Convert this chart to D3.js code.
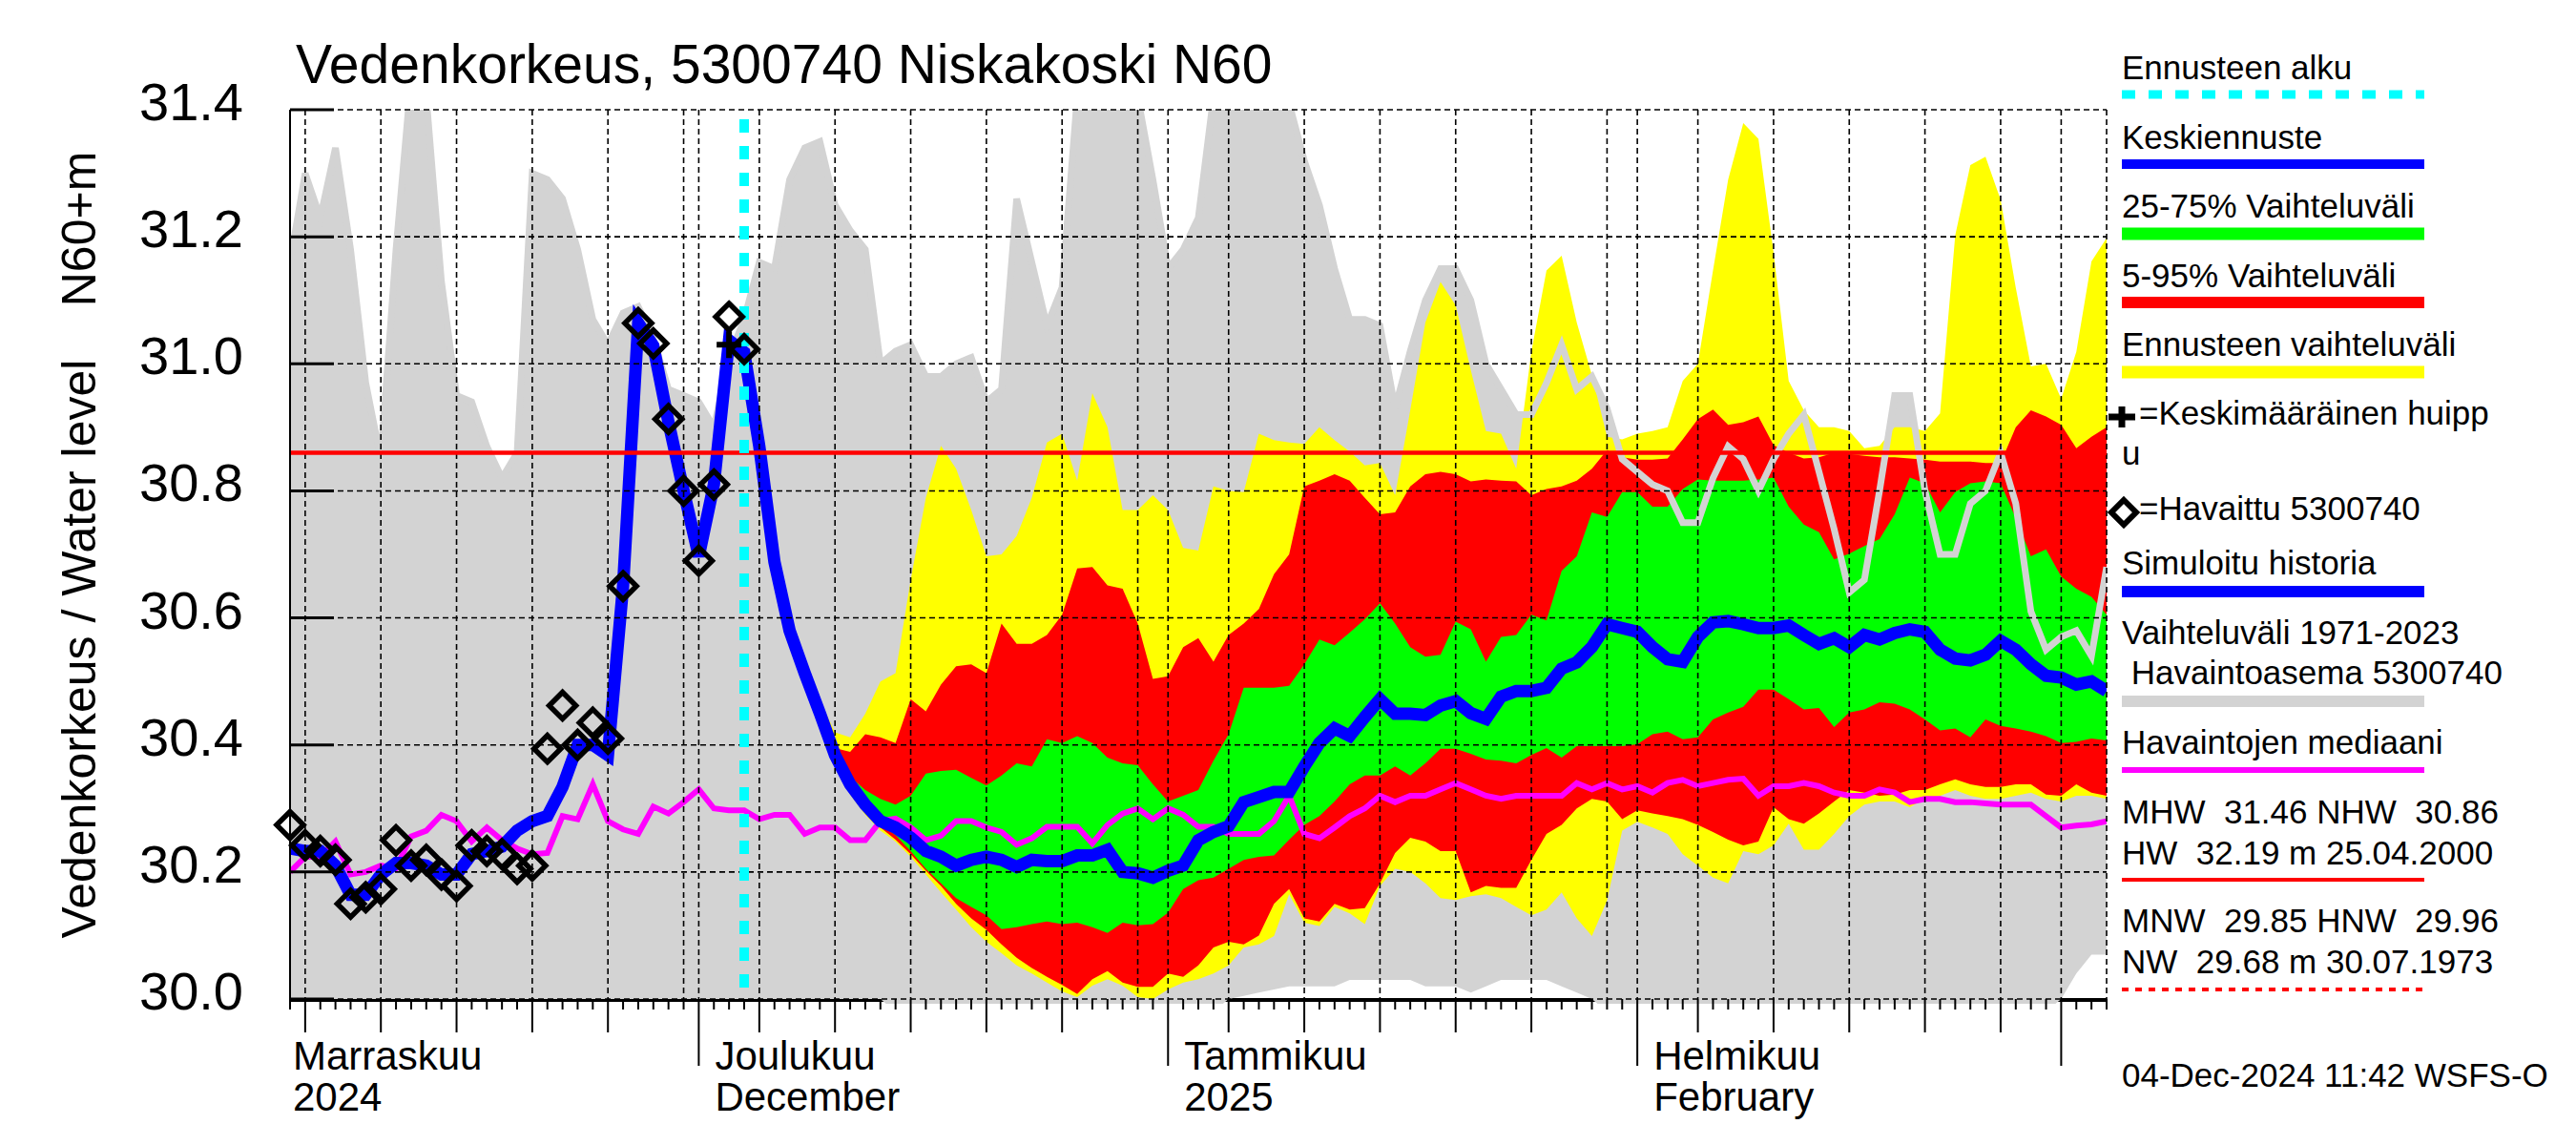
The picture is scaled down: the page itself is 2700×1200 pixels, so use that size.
<!DOCTYPE html>
<html>
<head>
<meta charset="utf-8">
<script src="https://cdn.jsdelivr.net/npm/d3@7"></script>
<style>
  body { margin: 0; background: #fff; }
  svg { display: block; font-family: "Liberation Sans", Arial, sans-serif; }
</style>
</head>
<body>
<script>
// ---- data (daily values) ----
let startDate = "2024-11-04";
let endDate = "2025-03-04";
let forecastDate = "2024-12-04";
let peakDate = "2024-12-03";
let peakValue = 31.03;
let nhwLevel = 30.86;

let yTicks = [30.0, 30.2, 30.4, 30.6, 30.8, 31.0, 31.2, 31.4];
let monthLabels = [
  { date: "2024-11-01", top: "Marraskuu", bottom: "2024" },
  { date: "2024-12-01", top: "Joulukuu", bottom: "December" },
  { date: "2025-01-01", top: "Tammikuu", bottom: "2025" },
  { date: "2025-02-01", top: "Helmikuu", bottom: "February" },
];

// Vaihteluväli 1971-2023 (from startDate, one value per day)
let greyHigh = [
  31.16, 31.30, 31.23, 31.34, 31.18, 30.97, 30.85, 31.18, 31.45, 31.42,
  31.13, 30.95, 30.94, 30.87, 30.82, 30.86, 31.30, 31.29, 31.26, 31.18,
  31.07, 31.03, 31.08, 31.09, 31.04, 30.96, 30.95, 30.94, 30.90, 31.01,
  31.07, 31.16, 31.15, 31.29, 31.34, 31.35, 31.25, 31.21, 31.18, 31.00,
  31.02, 31.03, 30.98, 30.98, 31.00, 31.01, 30.94, 30.96, 31.26, 31.16,
  31.06, 31.12, 31.42, 31.45, 31.48, 31.45, 31.42, 31.29, 31.15, 31.18,
  31.23, 31.42, 31.50, 31.50, 31.50, 31.45, 31.41, 31.32, 31.25, 31.15,
  31.07, 31.07, 31.06, 30.93, 31.02, 31.10, 31.15, 31.15, 31.10, 31.00,
  30.96, 30.92, 30.92, 30.97, 31.03, 30.96, 30.98, 30.93, 30.85, 30.83,
  30.81, 30.80, 30.75, 30.75, 30.82, 30.87, 30.85, 30.80, 30.85, 30.89,
  30.92, 30.83, 30.74, 30.64, 30.66, 30.80, 30.95, 30.95, 30.80, 30.70,
  30.70, 30.78, 30.80, 30.86, 30.78, 30.61, 30.55, 30.57, 30.58, 30.54,
  30.68,
];
let greyLow = [
  30.0, 30.0, 30.0, 30.0, 30.0, 30.0, 30.0, 30.0, 30.0, 30.0,
  30.0, 30.0, 30.0, 30.0, 30.0, 30.0, 30.0, 30.0, 30.0, 30.0,
  30.0, 30.0, 30.0, 30.0, 30.0, 30.0, 30.0, 30.0, 30.0, 30.0,
  30.0, 30.0, 30.0, 30.0, 30.0, 30.0, 30.0, 30.0, 30.0, 30.0,
  29.98, 29.98, 29.98, 29.98, 29.98, 29.98, 29.98, 29.98, 29.98, 29.98,
  29.98, 29.98, 29.98, 29.98, 29.98, 29.98, 29.98, 29.98, 29.98, 29.98,
  29.98, 29.98, 30.0, 30.005, 30.01, 30.015, 30.02, 30.02, 30.02, 30.02,
  30.03, 30.03, 30.03, 30.03, 30.03, 30.02, 30.02, 30.02, 30.01, 30.02,
  30.03, 30.03, 30.03, 30.03, 30.02, 30.01, 30.0, 29.98, 29.98, 29.98,
  29.98, 29.98, 29.98, 29.98, 29.98, 29.98, 29.98, 29.98, 29.98, 29.98,
  29.98, 29.98, 29.98, 29.98, 29.98, 29.98, 29.98, 29.98, 29.98, 29.98,
  29.98, 29.98, 29.98, 29.98, 29.98, 29.98, 29.98, 30.0, 30.04, 30.07,
  30.07,
];

// Havaintojen mediaani (from startDate)
let median = [
  30.20, 30.224, 30.224, 30.248, 30.196, 30.20, 30.21, 30.206, 30.256, 30.265,
  30.29, 30.28, 30.248, 30.27, 30.25, 30.237, 30.228, 30.23, 30.288, 30.283,
  30.338, 30.28, 30.267, 30.26, 30.303, 30.292, 30.31, 30.33, 30.30, 30.297,
  30.297, 30.283, 30.29, 30.29, 30.26, 30.27, 30.27, 30.25, 30.25, 30.28,
  30.284, 30.27, 30.25, 30.257, 30.28, 30.28, 30.27, 30.263, 30.243, 30.253,
  30.271, 30.271, 30.271, 30.245, 30.274, 30.292, 30.30, 30.283, 30.30, 30.29,
  30.271, 30.271, 30.26, 30.26, 30.26, 30.28, 30.32, 30.26, 30.253, 30.27,
  30.288, 30.30, 30.32, 30.31, 30.32, 30.32, 30.33, 30.34, 30.33, 30.32,
  30.315, 30.32, 30.32, 30.32, 30.32, 30.34, 30.33, 30.34, 30.33, 30.335,
  30.325, 30.34, 30.345, 30.335, 30.34, 30.345, 30.347, 30.32, 30.335, 30.335,
  30.34, 30.335, 30.325, 30.32, 30.32, 30.33, 30.325, 30.31, 30.315, 30.315,
  30.31, 30.31, 30.308, 30.306, 30.306, 30.306, 30.288, 30.27, 30.273, 30.275,
  30.28,
];

// Simuloitu historia and Havaittu (from startDate up to forecastDate)
let simHistory = [
  30.237, 30.233, 30.233, 30.21, 30.164, 30.164, 30.196, 30.214, 30.214, 30.21,
  30.196, 30.196, 30.228, 30.233, 30.24, 30.265, 30.28, 30.288, 30.334, 30.40,
  30.40, 30.384, 30.65, 31.064, 31.028, 30.908, 30.80, 30.697, 30.81, 31.037,
  31.018,
];
let observed = [
  30.274, 30.242, 30.233, 30.219, 30.15, 30.16, 30.173, 30.25, 30.21, 30.219,
  30.196, 30.178, 30.242, 30.233, 30.228, 30.205, 30.21, 30.394, 30.462, 30.40,
  30.435, 30.41, 30.65, 31.064, 31.032, 30.913, 30.80, 30.69, 30.81, 31.074,
  31.023,
];

// Forecast (from forecastDate)
let forecastMean = [
  31.018, 30.87, 30.688, 30.58, 30.513, 30.45, 30.384, 30.338, 30.306, 30.28,
  30.27, 30.254, 30.233, 30.224, 30.21, 30.219, 30.224, 30.219, 30.208, 30.219,
  30.217, 30.217, 30.226, 30.226, 30.235, 30.20, 30.198, 30.191, 30.202, 30.21,
  30.25, 30.263, 30.272, 30.31, 30.318, 30.326, 30.326, 30.366, 30.403, 30.426,
  30.414, 30.444, 30.472, 30.449, 30.449, 30.447, 30.462, 30.469, 30.45, 30.441,
  30.476, 30.485, 30.485, 30.49, 30.52, 30.53, 30.554, 30.59, 30.584, 30.578,
  30.554, 30.535, 30.531, 30.57, 30.593, 30.595, 30.59, 30.584, 30.584, 30.588,
  30.573, 30.559, 30.568, 30.554, 30.573, 30.566, 30.576, 30.582, 30.578, 30.55,
  30.536, 30.533, 30.542, 30.564, 30.55, 30.527, 30.509, 30.506, 30.495, 30.50,
  30.485,
];
let yellowHigh = [
  31.018, 30.87, 30.69, 30.60, 30.53, 30.47, 30.42, 30.412, 30.449, 30.50,
  30.513, 30.66, 30.789, 30.871, 30.835, 30.77, 30.697, 30.70, 30.729, 30.789,
  30.876, 30.89, 30.816, 30.954, 30.90, 30.77, 30.77, 30.793, 30.77, 30.71,
  30.706, 30.807, 30.80, 30.798, 30.89, 30.88, 30.876, 30.874, 30.90, 30.88,
  30.862, 30.84, 30.844, 30.793, 30.927, 31.065, 31.129, 31.092, 30.99, 30.894,
  30.89, 30.835, 31.019, 31.147, 31.17, 31.065, 30.982, 30.885, 30.881, 30.89,
  30.894, 30.90, 30.973, 31.0, 31.147, 31.29, 31.379, 31.354, 31.175, 30.973,
  30.927, 30.90, 30.90, 30.894, 30.867, 30.871, 30.90, 30.90, 30.894, 30.922,
  31.202, 31.313, 31.326, 31.258, 31.12, 30.996, 31.0, 30.945, 31.019, 31.161,
  31.198,
];
let redHigh = [
  31.018, 30.87, 30.688, 30.58, 30.515, 30.455, 30.395, 30.389, 30.417, 30.412,
  30.403, 30.472, 30.453, 30.495, 30.524, 30.527, 30.513, 30.591, 30.559, 30.559,
  30.573, 30.605, 30.678, 30.68, 30.651, 30.646, 30.591, 30.504, 30.508, 30.554,
  30.568, 30.531, 30.573, 30.591, 30.614, 30.669, 30.70, 30.807, 30.816, 30.826,
  30.816, 30.789, 30.763, 30.766, 30.807, 30.826, 30.83, 30.826, 30.815, 30.818,
  30.816, 30.815, 30.793, 30.803, 30.807, 30.816, 30.835, 30.864, 30.853, 30.849,
  30.849, 30.851, 30.881, 30.913, 30.928, 30.904, 30.908, 30.917, 30.872, 30.86,
  30.851, 30.853, 30.86, 30.858, 30.855, 30.853, 30.853, 30.851, 30.849, 30.846,
  30.846, 30.846, 30.844, 30.844, 30.90, 30.927, 30.917, 30.904, 30.867, 30.885,
  30.90,
];
let greenHigh = [
  31.018, 30.87, 30.688, 30.58, 30.513, 30.45, 30.39, 30.35, 30.329, 30.315,
  30.306, 30.32, 30.355, 30.359, 30.361, 30.348, 30.336, 30.352, 30.371, 30.366,
  30.409, 30.403, 30.414, 30.403, 30.38, 30.371, 30.368, 30.338, 30.311, 30.32,
  30.329, 30.375, 30.417, 30.49, 30.49, 30.49, 30.493, 30.527, 30.566, 30.557,
  30.577, 30.598, 30.623, 30.591, 30.554, 30.539, 30.542, 30.594, 30.582, 30.531,
  30.57, 30.573, 30.605, 30.596, 30.674, 30.697, 30.766, 30.759, 30.798, 30.798,
  30.775, 30.775, 30.803, 30.818, 30.816, 30.816, 30.816, 30.818, 30.821, 30.775,
  30.747, 30.735, 30.692, 30.701, 30.713, 30.724, 30.763, 30.821, 30.812, 30.766,
  30.798, 30.812, 30.815, 30.812, 30.757, 30.697, 30.708, 30.665, 30.646, 30.633,
  30.605,
];
let greenLow = [
  31.018, 30.87, 30.688, 30.578, 30.51, 30.446, 30.38, 30.33, 30.30, 30.275,
  30.258, 30.233, 30.205, 30.182, 30.159, 30.145, 30.132, 30.11, 30.113, 30.118,
  30.122, 30.118, 30.12, 30.113, 30.104, 30.12, 30.116, 30.118, 30.136, 30.173,
  30.187, 30.191, 30.205, 30.219, 30.224, 30.226, 30.251, 30.274, 30.288, 30.311,
  30.338, 30.352, 30.352, 30.366, 30.352, 30.371, 30.394, 30.394, 30.386, 30.377,
  30.375, 30.371, 30.384, 30.395, 30.38, 30.398, 30.398, 30.398, 30.398, 30.401,
  30.417, 30.421, 30.409, 30.412, 30.44, 30.451, 30.46, 30.487, 30.487, 30.472,
  30.456, 30.458, 30.428, 30.451, 30.456, 30.467, 30.465, 30.456, 30.44, 30.423,
  30.426, 30.412, 30.44, 30.43, 30.426, 30.421, 30.414, 30.403, 30.405, 30.41,
  30.407,
];
let redLow = [
  31.018, 30.87, 30.688, 30.577, 30.508, 30.444, 30.378, 30.325, 30.295, 30.27,
  30.251, 30.228, 30.202, 30.178, 30.15, 30.127, 30.109, 30.086, 30.065, 30.049,
  30.035, 30.022, 30.008, 30.031, 30.044, 30.026, 30.019, 30.019, 30.04, 30.035,
  30.053, 30.081, 30.09, 30.086, 30.10, 30.15, 30.173, 30.127, 30.122, 30.15,
  30.141, 30.143, 30.182, 30.23, 30.254, 30.248, 30.233, 30.233, 30.168, 30.178,
  30.175, 30.175, 30.219, 30.26, 30.274, 30.30, 30.315, 30.311, 30.283, 30.297,
  30.292, 30.288, 30.283, 30.274, 30.263, 30.251, 30.242, 30.248, 30.302, 30.283,
  30.276, 30.292, 30.311, 30.329, 30.325, 30.32, 30.322, 30.329, 30.329, 30.338,
  30.346, 30.338, 30.334, 30.334, 30.338, 30.338, 30.322, 30.32, 30.338, 30.325,
  30.32,
];
let yellowLow = [
  31.018, 30.87, 30.688, 30.575, 30.506, 30.442, 30.375, 30.322, 30.29, 30.265,
  30.248, 30.224, 30.196, 30.168, 30.141, 30.113, 30.09, 30.072, 30.053, 30.04,
  30.026, 30.012, 30.003, 30.021, 30.031, 30.021, 30.003, 30.0, 30.015, 30.026,
  30.031, 30.04, 30.053, 30.081, 30.086, 30.099, 30.165, 30.12, 30.115, 30.145,
  30.135, 30.118, 30.178, 30.205, 30.20, 30.182, 30.159, 30.156, 30.162, 30.165,
  30.159, 30.145, 30.132, 30.141, 30.168, 30.127, 30.099, 30.155, 30.265, 30.279,
  30.27, 30.26, 30.228, 30.21, 30.191, 30.182, 30.233, 30.228, 30.242, 30.276,
  30.235, 30.235, 30.26, 30.288, 30.306, 30.311, 30.311, 30.302, 30.315, 30.32,
  30.329, 30.32, 30.315, 30.315, 30.32, 30.325, 30.315, 30.311, 30.32, 30.32,
  30.315,
];

// ---- chart ----
let parse = d3.utcParse("%Y-%m-%d");
let t0 = parse(startDate);
let t1 = parse(endDate);
let tf = parse(forecastDate);

let plotLeft = 304, plotRight = 2208, plotTop = 115, plotBottom = 1047;

let x = d3.scaleUtc().domain([t0, t1]).range([plotLeft, plotRight]);
let y = d3.scaleLinear().domain([30.0, 31.4]).range([plotBottom, plotTop]);

let dayOf = (base, i) => d3.utcDay.offset(base, i);

let greyRows = greyHigh.map((v, i) => ({ date: dayOf(t0, i), hi: v, lo: greyLow[i] }));
let band = (hi, lo) => hi.map((v, i) => ({ date: dayOf(tf, i), hi: v, lo: lo[i] }));
let blueRows = simHistory
  .map((v, i) => ({ date: dayOf(t0, i), v: v }))
  .concat(forecastMean.slice(1).map((v, i) => ({ date: dayOf(tf, i + 1), v: v })));
let medianRows = median.map((v, i) => ({ date: dayOf(t0, i), v: v }));
let obsRows = observed.map((v, i) => ({ date: dayOf(t0, i), v: v }));

let svg = d3.select("body").append("svg").attr("width", 2700).attr("height", 1200);

svg.append("clipPath").attr("id", "plot")
  .append("rect").attr("x", plotLeft).attr("y", plotTop)
  .attr("width", plotRight - plotLeft).attr("height", plotBottom - plotTop + 5);

// thick bottom axis, partly covered by the grey band later
svg.append("line").attr("x1", plotLeft).attr("x2", plotRight)
  .attr("y1", plotBottom + 1).attr("y2", plotBottom + 1)
  .attr("stroke", "black").attr("stroke-width", 4);

let plot = svg.append("g").attr("clip-path", "url(#plot)");

let area = d3.area().x((d) => x(d.date)).y0((d) => y(d.lo)).y1((d) => y(d.hi));
let line = d3.line().x((d) => x(d.date)).y((d) => y(d.v));

plot.append("path").datum(greyRows).attr("d", area).attr("fill", "#d3d3d3");
plot.append("path").datum(band(yellowHigh, yellowLow)).attr("d", area).attr("fill", "#ffff00");
plot.append("path").datum(band(redHigh, redLow)).attr("d", area).attr("fill", "#ff0000");
plot.append("path").datum(band(greenHigh, greenLow)).attr("d", area).attr("fill", "#00ff00");

// grid
let grid = svg.append("g").attr("stroke", "black").attr("stroke-width", 1.6)
  .attr("stroke-dasharray", "6,4").attr("fill", "none");
grid.selectAll("line.h").data(yTicks).enter().append("line")
  .attr("x1", plotLeft).attr("x2", plotRight)
  .attr("y1", (d) => y(d)).attr("y2", (d) => y(d));
let gridDays = d3.utcDay.range(t0, t1).filter((d) =>
  [1, 5, 10, 15, 20, 25, 30].includes(d.getUTCDate()) && +d !== +t0);
gridDays.push(t1);
grid.selectAll("line.v").data(gridDays).enter().append("line")
  .attr("x1", (d) => x(d)).attr("x2", (d) => x(d))
  .attr("y1", plotTop).attr("y2", plotBottom);

// NHW line
svg.append("line").attr("x1", plotLeft).attr("x2", plotRight)
  .attr("y1", y(nhwLevel)).attr("y2", y(nhwLevel))
  .attr("stroke", "#ff0000").attr("stroke-width", 4.5);

// grey upper bound drawn on top
plot.append("path").datum(greyRows.map((d) => ({ date: d.date, v: d.hi })))
  .attr("d", line).attr("fill", "none").attr("stroke", "#d3d3d3").attr("stroke-width", 7);

plot.append("path").datum(medianRows).attr("d", line)
  .attr("fill", "none").attr("stroke", "#ff00ff").attr("stroke-width", 6);

plot.append("path").datum(blueRows).attr("d", line)
  .attr("fill", "none").attr("stroke", "#0000ff").attr("stroke-width", 13);

// forecast start
svg.append("line").attr("x1", x(tf)).attr("x2", x(tf))
  .attr("y1", plotTop + 10).attr("y2", plotBottom)
  .attr("stroke", "#00ffff").attr("stroke-width", 10).attr("stroke-dasharray", "14,14");

// observations
let diamond = "M0,-14L14,0L0,14L-14,0Z";
svg.selectAll("path.obs").data(obsRows).enter().append("path")
  .attr("class", "obs")
  .attr("transform", (d) => `translate(${x(d.date)},${y(d.v)})`)
  .attr("d", diamond).attr("fill", "none").attr("stroke", "black").attr("stroke-width", 5.5);

// mean peak
let px = x(parse(peakDate)), py = y(peakValue);
svg.append("path").attr("d", `M${px - 13},${py}H${px + 13}M${px},${py - 14}V${py + 14}`)
  .attr("stroke", "black").attr("stroke-width", 6);

// axes
svg.append("line").attr("x1", plotLeft).attr("x2", plotLeft).attr("y1", plotTop).attr("y2", plotBottom)
  .attr("stroke", "black").attr("stroke-width", 2);
svg.selectAll("line.ytick").data(yTicks).enter().append("line")
  .attr("x1", plotLeft).attr("x2", plotLeft + 46)
  .attr("y1", (d) => y(d)).attr("y2", (d) => y(d))
  .attr("stroke", "black").attr("stroke-width", 3);
svg.selectAll("text.ylab").data(yTicks).enter().append("text")
  .attr("x", 255).attr("y", (d) => y(d) + 11)
  .attr("text-anchor", "end").attr("font-size", 56)
  .text((d) => d.toFixed(1));

let allDays = d3.utcDay.range(t0, d3.utcDay.offset(t1, 1));
svg.selectAll("line.xtick").data(allDays).enter().append("line")
  .attr("x1", (d) => x(d)).attr("x2", (d) => x(d))
  .attr("y1", plotBottom)
  .attr("y2", (d) => {
    let dd = d.getUTCDate();
    if (dd === 1) return 1117;
    if (dd % 5 === 0 && dd <= 25) return 1082;
    return 1058;
  })
  .attr("stroke", "black").attr("stroke-width", 2);

monthLabels.forEach((m) => {
  let mx = Math.max(x(parse(m.date)) + 17, plotLeft + 3);
  svg.append("text").attr("x", mx).attr("y", 1121).attr("font-size", 42).text(m.top);
  svg.append("text").attr("x", mx).attr("y", 1164).attr("font-size", 42).text(m.bottom);
});

// titles
svg.append("text").attr("x", 310).attr("y", 87).attr("font-size", 57)
  .text("Vedenkorkeus, 5300740 Niskakoski N60");
svg.append("text").attr("transform", "translate(100,240) rotate(-90)")
  .attr("text-anchor", "middle").attr("font-size", 50).text("N60+m");
svg.append("text").attr("transform", "translate(100,680) rotate(-90)")
  .attr("text-anchor", "middle").attr("font-size", 50).text("Vedenkorkeus / Water level");

// legend
let lx = 2224, lx2 = 2541;
let legend = svg.append("g").attr("font-size", 35);
let ltext = (tx, ty, s) => legend.append("text").attr("x", tx).attr("y", ty)
  .attr("xml:space", "preserve").style("white-space", "pre").text(s);
let lline = (ly, color, w, dash) => {
  let l = legend.append("line").attr("x1", lx).attr("x2", lx2).attr("y1", ly).attr("y2", ly)
    .attr("stroke", color).attr("stroke-width", w);
  if (dash) l.attr("stroke-dasharray", dash);
};

ltext(lx, 83, "Ennusteen alku");
lline(99, "#00ffff", 9, "14,14");
ltext(lx, 156, "Keskiennuste");
lline(172, "#0000ff", 10);
ltext(lx, 228, "25-75% Vaihteluväli");
lline(245, "#00ff00", 13);
ltext(lx, 301, "5-95% Vaihteluväli");
lline(317, "#ff0000", 12);
ltext(lx, 373, "Ennusteen vaihteluväli");
lline(390, "#ffff00", 13);

legend.append("path").attr("d", `M${lx - 14},437H${lx + 14}M${lx},426V448`)
  .attr("stroke", "black").attr("stroke-width", 7);
ltext(lx + 18, 445, "=Keskimääräinen huipp");
ltext(lx, 487, "u");
legend.append("path").attr("transform", `translate(${lx + 2},537)`)
  .attr("d", "M0,-13L13,0L0,13L-13,0Z").attr("fill", "none")
  .attr("stroke", "black").attr("stroke-width", 6);
ltext(lx + 18, 545, "=Havaittu 5300740");

ltext(lx, 602, "Simuloitu historia");
lline(620, "#0000ff", 12);
ltext(lx, 675, "Vaihteluväli 1971-2023");
ltext(lx, 717, " Havaintoasema 5300740");
lline(735, "#d3d3d3", 12);
ltext(lx, 790, "Havaintojen mediaani");
lline(807, "#ff00ff", 6);
ltext(lx, 863, "MHW  31.46 NHW  30.86");
ltext(lx, 906, "HW  32.19 m 25.04.2000");
lline(922, "#ff0000", 4);
ltext(lx, 977, "MNW  29.85 HNW  29.96");
ltext(lx, 1020, "NW  29.68 m 30.07.1973");
lline(1037, "#ff0000", 4, "7,7");
ltext(lx, 1139, "04-Dec-2024 11:42 WSFS-O");
</script>
</body>
</html>
